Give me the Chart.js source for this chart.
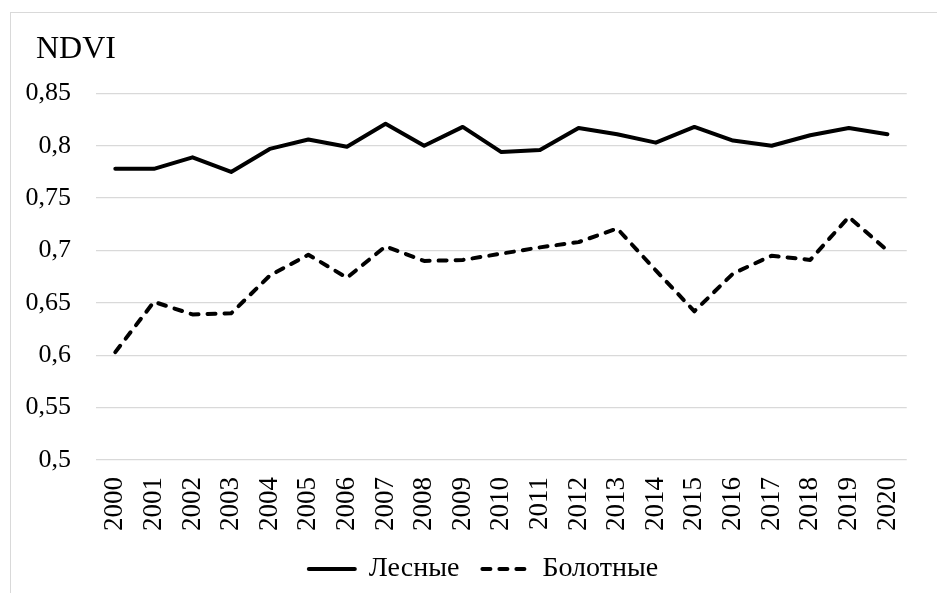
<!DOCTYPE html>
<html>
<head>
	<meta charset="utf-8">
	<title>NDVI</title>
	<style>
		body { margin: 0; background: #fff; }
		#wrap { position: relative; width: 937px; height: 593px; overflow: hidden; }
		#frame { position: absolute; left: 10px; top: 12px; width: 940px; height: 600px; border-left: 1px solid #d9d9d9; border-top: 1px solid #d9d9d9; }
		#myChart { position: absolute; left: 0; top: 0; }
	</style>
</head>
<body>
	<div id="wrap">
		<div id="frame"></div>
		<canvas id="myChart" width="937" height="593"></canvas>
	</div>
	<script type="text/javascript" src="https://cdn.jsdelivr.net/npm/chart.js@4.4.0/dist/chart.umd.min.js"></script>
	<script type="text/javascript">
		let years = ["2000", "2001", "2002", "2003", "2004", "2005", "2006", "2007", "2008", "2009", "2010",
			"2011", "2012", "2013", "2014", "2015", "2016", "2017", "2018", "2019", "2020"];
		// forest
		let forest = [0.778, 0.778, 0.789, 0.775, 0.797, 0.806, 0.799, 0.821, 0.800, 0.818, 0.794,
			0.796, 0.817, 0.811, 0.803, 0.818, 0.805, 0.800, 0.810, 0.817, 0.811];
		// bog
		let bog = [0.603, 0.651, 0.639, 0.640, 0.676, 0.696, 0.674, 0.704, 0.690, 0.691, 0.697,
			0.703, 0.708, 0.721, 0.681, 0.642, 0.678, 0.695, 0.691, 0.732, 0.700];
		let seriesNames = ["Лесные", "Болотные"];

		let font = "'Liberation Serif', 'Times New Roman', serif";
		let ctx = document.getElementById("myChart").getContext("2d");

		// title and legend sit a bit to the right of the y axis box in the original
		let nudge = {
			id: "nudge",
			afterLayout: function (chart) {
				chart.titleBlock.left += 13;
				chart.legend.left += 14;
			}
		};

		let config = {
			type: "line",
			data: {
				labels: years,
				datasets: [
					{
						label: seriesNames[0],
						data: forest,
						borderColor: "#000",
						backgroundColor: "#000",
						borderWidth: 4,
						pointRadius: 0,
						tension: 0,
						borderJoinStyle: "round",
						borderCapStyle: "round",
					},
					{
						label: seriesNames[1],
						data: bog,
						borderColor: "#000",
						backgroundColor: "#000",
						borderWidth: 4,
						borderDash: [8, 9],
						pointRadius: 0,
						tension: 0,
						borderJoinStyle: "round",
						borderCapStyle: "round",
					}
				]
			},
			options: {
				responsive: false,
				animation: false,
				layout: { padding: { left: 23, right: 7, top: 12, bottom: 0 } },
				plugins: {
					tooltip: { enabled: false },
					title: {
						display: true,
						text: "NDVI",
						align: "start",
						color: "#000",
						font: { family: font, size: 32, weight: "normal" },
						padding: { top: 18, bottom: 25 },
					},
					legend: {
						position: "bottom",
						labels: {
							usePointStyle: true,
							pointStyle: "line",
							pointStyleWidth: 46,
							padding: 23,
							color: "#000",
							font: { family: font, size: 28 },
							generateLabels: function (chart) {
								let items = Chart.defaults.plugins.legend.labels.generateLabels(chart);
								items.forEach(function (item) {
									let ds = chart.data.datasets[item.datasetIndex];
									item.lineDash = ds.borderDash || [];
									item.lineWidth = ds.borderWidth;
									item.lineCap = "round";
									item.strokeStyle = ds.borderColor;
								});
								return items;
							}
						}
					}
				},
				scales: {
					x: {
						offset: true,
						afterFit: function (scale) { scale.height = 72; },
						grid: { display: false, drawTicks: false },
						border: { display: false },
						ticks: {
							autoSkip: false,
							minRotation: 90,
							maxRotation: 90,
							padding: 17,
							color: "#000",
							font: { family: font, size: 27 },
						}
					},
					y: {
						min: 0.5,
						max: 0.85,
						afterFit: function (scale) { scale.width = 73; },
						grid: { color: "#d9d9d9", lineWidth: 1.3, drawTicks: false },
						border: { display: false },
						ticks: {
							stepSize: 0.05,
							padding: 25,
							color: "#000",
							font: { family: font, size: 26 },
							callback: function (v) {
								return String(Math.round(v * 100) / 100).replace(".", ",");
							}
						}
					}
				}
			},
			plugins: [nudge]
		};

		let myChart = new Chart(ctx, config);
	</script>
</body>
</html>
